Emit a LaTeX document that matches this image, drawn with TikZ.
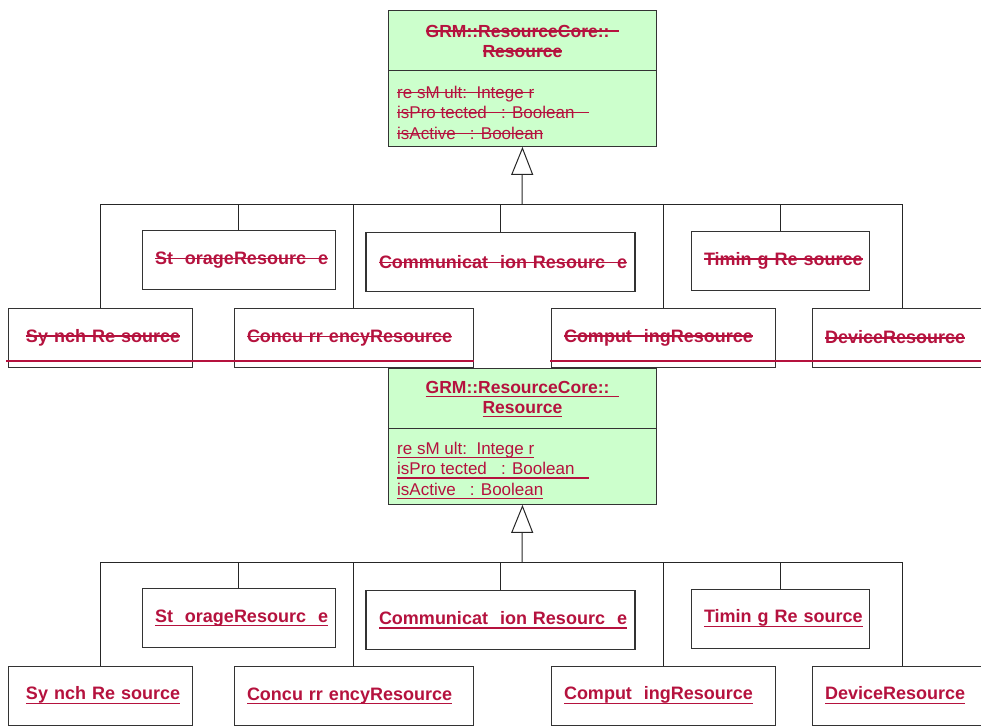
\documentclass[tikz,border=0pt]{standalone}
\usepackage{fontspec}
\setmainfont{Liberation Sans}
\usetikzlibrary{arrows.meta}
\definecolor{revred}{HTML}{B5123E}
\definecolor{clsgreen}{HTML}{CCFFCC}
% struck-out and underlined text
\newcommand{\strk}[1]{\setbox0\hbox{#1}\rlap{\rule[0.3em]{\wd0}{1.4bp}}\box0}
\newcommand{\undl}[1]{\setbox0\hbox{#1}\rlap{\rule[-0.24em]{\wd0}{1.4bp}}\box0}
\tikzset{
  clsbox/.style={draw=black!80, line width=0.9bp, inner sep=0pt},
  leafbox/.style={clsbox, minimum height=59bp, inner xsep=13bp, align=left, text=revred,
    font=\fontsize{18bp}{21bp}\selectfont\bfseries},
  ttltxt/.style={text=revred, align=center, inner sep=0pt,
    font=\fontsize{17.5bp}{20bp}\selectfont\bfseries},
  attrtxt/.style={text=revred, align=left, inner sep=0pt,
    font=\fontsize{17bp}{20.5bp}\selectfont},
  conn/.style={draw=black!85, line width=1bp},
  gen/.style={conn, -{Triangle[open, width=22bp, length=28bp]}},
  revline/.style={draw=revred, line width=1.6bp}
}

\begin{document}
\begin{tikzpicture}[x=1bp,y=-1bp]
\useasboundingbox (0,0) rectangle (981,726);
% old copy struck out, new copy underlined
\foreach \i/\dy/\mk in {a/0/\strk, b/358/\undl}{
  \node[clsbox, fill=clsgreen, minimum width=268bp, minimum height=136bp,
    anchor=north west] (res\i) at (388,10+\dy) {};
  \draw[clsbox] ([yshift=-60bp]res\i.north west) -- ([yshift=-60bp]res\i.north east);
  \node[ttltxt] (ttl\i) at ([yshift=-31bp]res\i.north)
    {\mk{GRM::ResourceCore::~~}\\\mk{Resource}};
  \node[attrtxt, anchor=west] (att\i) at (397,112.5+\dy)
    {\mk{re sM ult:~~Intege r}\\\mk{isPro tected~~ : Boolean~~~}\\\mk{isActive~~ : Boolean}};
  % subclasses
  \node[leafbox, minimum width=193bp, text width=167bp] (stor\i) at (238.5,260+\dy)
    {\mk{St~~orageResourc~~e}};
  \node[leafbox, minimum width=269bp, text width=243bp, line width=1.6bp] (comm\i) at (500.5,262+\dy)
    {\mk{Communicat~~ion Resourc~~e}};
  \node[leafbox, minimum width=178bp, text width=152bp] (tim\i) at (780,260.5+\dy)
    {\mk{Timin g Re source}};
  \node[leafbox, minimum width=184bp, text width=158bp] (synch\i) at (100,337.5+\dy)
    {\hspace*{5bp}\mk{Sy nch Re source}};
  \node[leafbox, minimum width=239bp, text width=213bp] (conc\i) at (353.5,338+\dy)
    {\mk{Concu rr encyResource}};
  \node[leafbox, minimum width=224bp, text width=198bp] (comp\i) at (663,337.5+\dy)
    {\mk{Comput~~ingResource}};
  \node[leafbox, minimum width=180bp, text width=154bp] (dev\i) at (902,337.5+\dy)
    {\mk{DeviceResource}};
  % generalization
  \coordinate (bus\i) at (522,204+\dy);
  \draw[gen] (bus\i) -- (res\i.south);
  \draw[conn] (synch\i.north) |- (dev\i.north |- bus\i) -- (dev\i.north);
  \foreach \n in {stor,comm,tim,conc,comp}
    \draw[conn] (\n\i.north) -- (\n\i.north |- bus\i);
}
\draw[revline] (6,361) -- (474,361) (550,361) -- (981,361);
\end{tikzpicture}
\end{document}
